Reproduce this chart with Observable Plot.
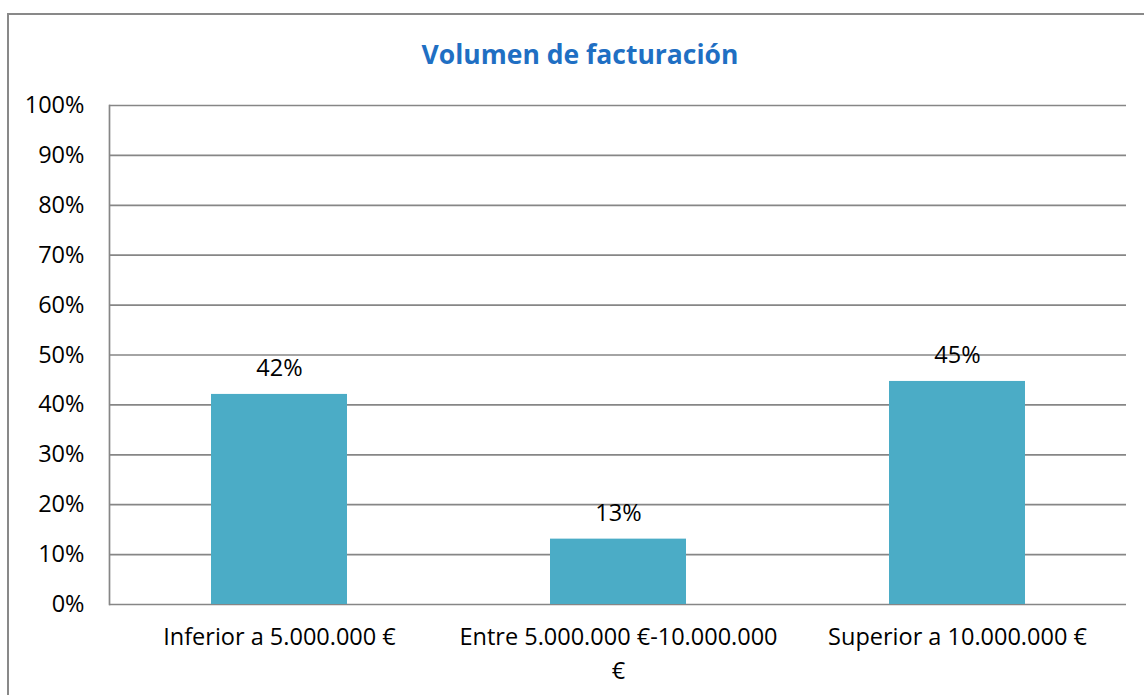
<!DOCTYPE html>
<html>
<head>
<meta charset="utf-8">
<script src="https://cdn.jsdelivr.net/npm/d3@7"></script>
<script src="https://cdn.jsdelivr.net/npm/@observablehq/plot@0.6"></script>
<style>
  html, body { margin: 0; padding: 0; background: #fff; width: 1144px; height: 695px; overflow: hidden; }
  #frame { position: absolute; left: 7px; top: 13px; width: 1200px; height: 800px;
           border-left: 2px solid #898989; border-top: 2px solid #898989; box-sizing: border-box; }
  #title { position: absolute; left: 0; width: 1160px; top: 36px; text-align: center;
           font-family: "Open Sans", sans-serif; font-weight: bold; font-size: 26.5px; color: #1F6FC3; }
  #chart { position: absolute; left: 0; top: 80px; }
</style>
</head>
<body>
<div id="frame"></div>
<div id="title">Volumen de facturación</div>
<div id="chart"></div>
<script>
const categories = ["Inferior a 5.000.000 €", "Entre 5.000.000 €-10.000.000\n€", "Superior a 10.000.000 €"];
const values = [0.421, 0.131, 0.447];
const labels = ["42%", "13%", "45%"];
const yTicks = [0, 0.1, 0.2, 0.3, 0.4, 0.5, 0.6, 0.7, 0.8, 0.9, 1.0];

const data = categories.map((c, i) => ({cat: c, value: values[i], label: labels[i]}));

const chart = Plot.plot({
  width: 1144,
  height: 615,
  marginTop: 25,
  marginBottom: 91,
  marginLeft: 109,
  marginRight: 18,
  style: {fontFamily: "'Open Sans', sans-serif", fontSize: "23.5px", color: "#000", background: "transparent"},
  x: {domain: categories, paddingInner: 0.6, paddingOuter: 0.3, label: null},
  y: {domain: [0, 1], label: null},
  marks: [
    Plot.ruleY(yTicks, {stroke: "#868686", strokeWidth: 1.7}),
    Plot.frame({anchor: "left", stroke: "#868686", strokeWidth: 1.7}),
    Plot.barY(data, {x: "cat", y: "value", fill: "#4BACC6"}),
    Plot.text(data, {x: "cat", y: "value", text: "label", dy: -26, fill: "#000", fontSize: 23.5}),
    Plot.axisY({ticks: yTicks, tickFormat: d => Math.round(d * 100) + "%", tickSize: 0, tickPadding: 25,
                fill: "#000", fontSize: 23.5, label: null}),
    Plot.axisX({tickSize: 0, tickPadding: 16, fill: "#000", fontSize: 23.5, label: null, lineHeight: 1.45})
  ]
});
document.getElementById("chart").appendChild(chart);
</script>
</body>
</html>
